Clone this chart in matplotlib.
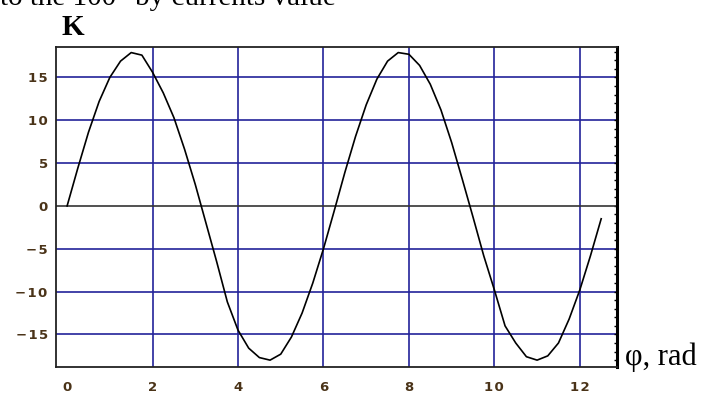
import numpy as np
import matplotlib
matplotlib.use("Agg")
import matplotlib.pyplot as plt
from matplotlib.ticker import MultipleLocator

# values
phi = [0.0, 0.25, 0.5, 0.75, 1.0, 1.25, 1.5, 1.75, 2.0, 2.25, 2.5, 2.75,
       3.0, 3.25, 3.5, 3.75, 4.0, 4.25, 4.5, 4.75, 5.0, 5.25, 5.5, 5.75,
       6.0, 6.25, 6.5, 6.75, 7.0, 7.25, 7.5, 7.75, 8.0, 8.25, 8.5, 8.75,
       9.0, 9.25, 9.5, 9.75, 10.0, 10.25, 10.5, 10.75, 11.0, 11.25, 11.5,
       11.75, 12.0, 12.25, 12.5]
K = [0.0, 4.4, 8.6, 12.2, 15.0, 16.9, 17.9, 17.6, 15.6, 13.2, 10.3, 6.6,
     2.5, -2.0, -6.5, -11.2, -14.5, -16.6, -17.7, -18.0, -17.3, -15.3, -12.5, -9.0,
     -5.0, -0.6, 3.9, 8.1, 11.8, 14.8, 16.9, 17.9, 17.7, 16.4, 14.2, 11.2,
     7.4, 3.1, -1.3, -5.8, -9.8, -14.0, -16.0, -17.6, -18.0, -17.5, -16.0,
     -13.2, -9.8, -5.8, -1.5]

xticks = [0, 2, 4, 6, 8, 10, 12]
yticks = [-15, -10, -5, 0, 5, 10, 15]

navy = '#23239a'
lab_col = '#4a3318'

def spaced(v):
    s = str(v).replace('-', '\u2212')
    return '\u200a'.join(s)

fig = plt.figure(figsize=(7.25, 3.94), dpi=100)
ax = fig.add_axes([56/725, 1-367/394, (617-56)/725, (367-47)/394])

ax.set_xlim(-0.26, 12.87)
ax.set_ylim(-18.8, 18.55)

for x in xticks[1:]:
    ax.axvline(x, color=navy, lw=1.2, zorder=1)
for y in yticks:
    if y != 0:
        ax.axhline(y, color=navy, lw=1.2, zorder=1)
ax.axhline(0, color='#333333', lw=1.2, zorder=2)

ax.plot(phi, K, color='black', lw=1.2, zorder=3)

ax.set_xticks(xticks)
ax.set_xticklabels([spaced(v) for v in xticks])
ax.set_yticks(yticks)
ax.set_yticklabels([spaced(v) for v in yticks])
ax.yaxis.set_minor_locator(MultipleLocator(1))

ax.tick_params(axis='x', length=0, pad=10, labelsize=9.5, labelcolor=lab_col)
ax.tick_params(axis='y', which='both', left=False, right=True, direction='in',
               length=2.5, width=1, labelsize=9.5, labelcolor=lab_col, pad=6)
for t in ax.get_xticklabels() + ax.get_yticklabels():
    t.set_fontweight('bold')

for side in ['left', 'top', 'bottom']:
    ax.spines[side].set_color('#222222')
    ax.spines[side].set_linewidth(1.3)
ax.spines['right'].set_color('black')
ax.spines['right'].set_linewidth(2.2)

fig.text(0.0, 1-5/394, 'to the 100\u00b0 by currents value', family='Liberation Serif',
         fontsize=21, va='baseline', ha='left')
fig.text(62/725, 1-35/394, 'K', family='Liberation Serif', fontweight='bold',
         fontsize=21, va='baseline', ha='left')
fig.text(625/725, 1-365/394, '\u03c6, rad', family='Liberation Serif',
         fontsize=22, va='baseline', ha='left')

fig.savefig('out.png', dpi=100)
